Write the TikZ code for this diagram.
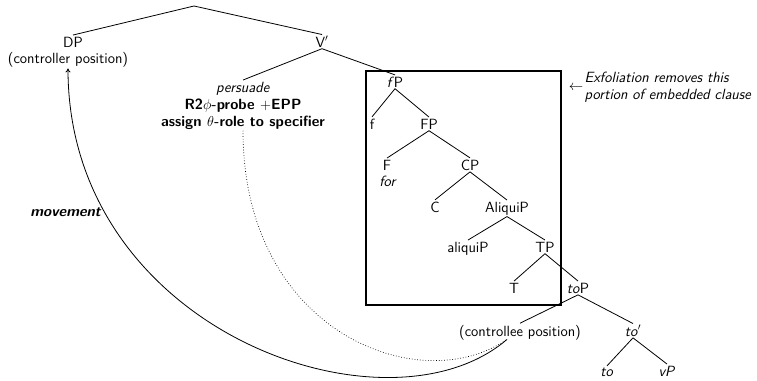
\documentclass[tikz,border=0pt]{standalone}
\usetikzlibrary{arrows.meta}
\begin{document}
\begin{tikzpicture}[x=1pt,y=-1pt,
  every node/.style={font=\sffamily\fontsize{14.8}{17}\selectfont, inner sep=1.5pt},
  lbl/.style={anchor=base},
  branch/.style={line width=0.8pt},
  movearrow/.style={line width=0.8pt, -{To[length=4pt,width=5pt]}},
  agreeline/.style={line width=0.7pt, dotted},
  exbox/.style={draw, line width=1.6pt, anchor=north west, inner sep=0pt}]
\useasboundingbox (0,0) rectangle (757,380);

% upper clause
\coordinate (root) at (194,6);
\node[lbl] (dp) at (73,47) {DP};
\node[lbl] (ctor) at (68,63) {(controller position)};
\node[lbl] (vbar) at (322,47) {V$'$};
\node[lbl] (pers1) at (243,92) {\textit{persuade}};
\node[lbl] (pers2) at (243,109) {\textbf{R2$\phi$-probe $+$EPP}};
\node[lbl] (pers3) at (243,126) {\textbf{assign $\theta$-role to specifier}};

% embedded clause
\node[lbl] (fp) at (395,87) {\textit{f}P};
\node[lbl] (f) at (372,129) {f};
\node[lbl] (FP) at (429,129) {FP};
\node[lbl] (F) at (387,170) {F};
\node[lbl] (for) at (388,186) {\textit{for}};
\node[lbl] (cp) at (470,170) {CP};
\node[lbl] (c) at (435,212) {C};
\node[lbl] (aliquiP) at (507,212) {AliquiP};
\node[lbl] (aliqui) at (468,252) {aliquiP};
\node[lbl] (tp) at (545,252) {TP};
\node[lbl] (t) at (514,293) {T};
\node[lbl] (top) at (578,293) {\textit{to}P};
\node[lbl] (ctee) at (520,336) {(controllee position)};
\node[lbl] (tobar) at (633,336) {\textit{to}$'$};
\node[lbl] (to) at (607,376) {\textit{to}};
\node[lbl] (vp) at (667,376) {\textit{vP}};

% branches
\draw[branch] (root) -- (dp.north);
\draw[branch] (root) -- (vbar.north);
\draw[branch] (vbar.south) -- (pers1.north);
\draw[branch] (vbar.south) -- (fp.north);
\draw[branch] (fp.south) -- (f.north);
\draw[branch] (fp.south) -- (FP.north);
\draw[branch] (FP.south) -- (F.north);
\draw[branch] (FP.south) -- (cp.north);
\draw[branch] (cp.south) -- (c.north);
\draw[branch] (cp.south) -- (aliquiP.north);
\draw[branch] (aliquiP.south) -- (aliqui.north);
\draw[branch] (aliquiP.south) -- (tp.north);
\draw[branch] (tp.south) -- (t.north);
\draw[branch] (tp.south) -- (top.north);
\draw[branch] (top.south) -- (ctee.north);
\draw[branch] (top.south) -- (tobar.north);
\draw[branch] (tobar.south) -- (to.north);
\draw[branch] (tobar.south) -- (vp.north);

% exfoliated portion
\node[exbox, minimum width=195pt, minimum height=234pt] (exf) at (365,70) {};
\node (larr) at (576,88) {$\leftarrow$};
\node[lbl, anchor=base west] (ex1) at (583,82) {\textit{Exfoliation removes this}};
\node[lbl, anchor=base west] (ex2) at (583,99) {\textit{portion of embedded clause}};

% movement and agreement
\coordinate (land) at ([xshift=-13pt,yshift=2pt]ctee.south);
\draw[movearrow] (land) .. controls +(-120,103) and +(0,263) .. (ctor.south);
\draw[agreeline] (pers3.south) .. controls +(0,202) and +(-87,60) .. (land);
\node[lbl] (mv) at (66,216) {\textbf{\textit{movement}}};
\end{tikzpicture}
\end{document}
